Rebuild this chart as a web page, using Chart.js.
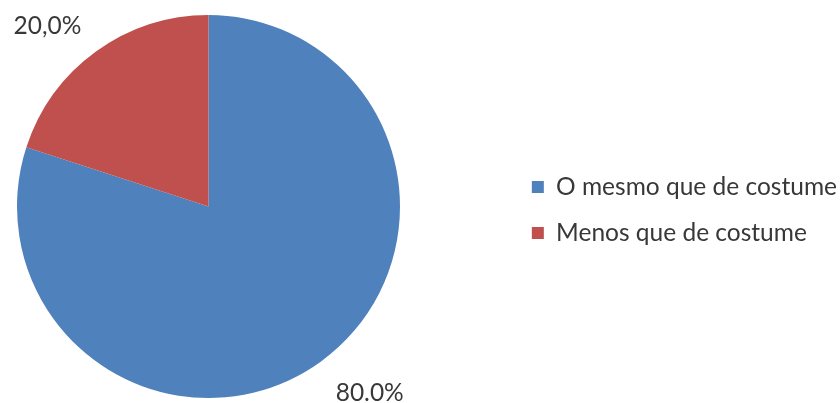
<!DOCTYPE html>
<html>
<head>
<meta charset="utf-8">
<script src="https://cdn.jsdelivr.net/npm/chart.js@4/dist/chart.umd.min.js"></script>
<style>
  html, body { margin: 0; padding: 0; background: #ffffff; }
  #wrap { position: relative; width: 840px; height: 403px; }
</style>
</head>
<body>
<div id="wrap"><canvas id="chart" width="840" height="403"></canvas></div>
<script>
// Answers and their shares
const categories = ["O mesmo que de costume", "Menos que de costume"];
const shares = [80, 20];
const shareLabels = ["80.0%", "20,0%"];
const sliceColors = ["#4F81BD", "#C0504D"];

const textColor = "#383838";
const fontFamily = "Lato, 'Open Sans', sans-serif";

// Pie occupies the left part of the canvas; the legend keeps its own box on the right
const pieArea = { left: 16, top: 15, right: 401, bottom: 398 };

const placePie = {
  id: "placePie",
  afterLayout(chart) {
    const a = chart.chartArea;
    a.left = pieArea.left;
    a.top = pieArea.top;
    a.right = pieArea.right;
    a.bottom = pieArea.bottom;
    a.width = a.right - a.left;
    a.height = a.bottom - a.top;
  }
};

// Percentage labels just outside the rim, on the side facing away from the pie
const sliceLabels = {
  id: "sliceLabels",
  afterDatasetsDraw(chart) {
    const ctx = chart.ctx;
    const meta = chart.getDatasetMeta(0);
    ctx.save();
    ctx.font = "24.5px " + fontFamily;
    ctx.fillStyle = textColor;
    ctx.textBaseline = "alphabetic";
    meta.data.forEach((arc, i) => {
      const p = arc.getProps(["x", "y", "startAngle", "endAngle", "outerRadius"], true);
      const mid = (p.startAngle + p.endAngle) / 2;
      const r = p.outerRadius * 1.13;
      const ax = p.x + Math.cos(mid) * r;
      const ay = p.y + Math.sin(mid) * r;
      const text = shareLabels[i];
      const capH = ctx.measureText(text).actualBoundingBoxAscent;
      ctx.textAlign = Math.cos(mid) < 0 ? "right" : "left";
      const y = Math.sin(mid) < 0 ? ay + 3 : ay + capH + 1;
      ctx.fillText(text, ax, y);
    });
    ctx.restore();
  }
};

new Chart(document.getElementById("chart"), {
  type: "pie",
  data: {
    labels: categories,
    datasets: [{
      data: shares,
      backgroundColor: sliceColors,
      borderWidth: 0
    }]
  },
  options: {
    responsive: false,
    animation: false,
    layout: { padding: { top: 17, right: -7, bottom: 0, left: 0 } },
    plugins: {
      tooltip: { enabled: false },
      legend: {
        position: "right",
        labels: {
          boxWidth: 12,
          boxHeight: 12,
          padding: 21.5,
          color: textColor,
          font: { family: fontFamily, size: 24.5 }
        }
      }
    }
  },
  plugins: [placePie, sliceLabels]
});
</script>
</body>
</html>
